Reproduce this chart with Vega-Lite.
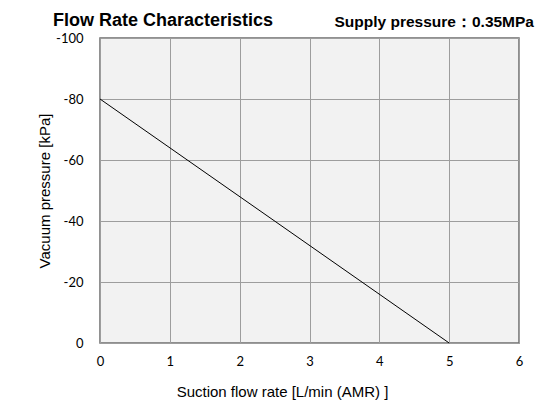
{
  "$schema": "https://vega.github.io/schema/vega-lite/v6.json",
  "width": 419,
  "height": 305,
  "autosize": "none",
  "padding": {"left": 100, "top": 38, "right": 16, "bottom": 62},
  "background": "white",
  "config": {
    "view": {"fill": "#f2f2f2", "stroke": "#6e6e6e", "strokeWidth": 1.5},
    "axis": {
      "grid": true,
      "gridColor": "#9d9d9d",
      "gridWidth": 1,
      "gridOpacity": 1,
      "domain": false,
      "ticks": false,
      "labelFont": "Lato",
      "labelFontSize": 13,
      "labelColor": "black",
      "labelExpr": "'' + datum.value",
      "titleFont": "Liberation Sans",
      "titleFontSize": 15,
      "titleFontWeight": "normal",
      "titleColor": "black"
    }
  },
  "data": {"values": [
    {"flow": 0, "pressure": -80},
    {"flow": 5, "pressure": 0}
  ]},
  "layer": [
    {
      "mark": {"type": "line", "color": "black", "strokeWidth": 1},
      "encoding": {
        "x": {
          "field": "flow", "type": "quantitative",
          "scale": {"domain": [0, 6], "nice": false},
          "axis": {"values": [0, 1, 2, 3, 4, 5, 6], "title": "Suction flow rate [L/min (AMR) ]", "labelPadding": 12, "titlePadding": 16, "titleX": 182, "titleAlign": "center", "labelFlush": false}
        },
        "y": {
          "field": "pressure", "type": "quantitative",
          "scale": {"domain": [-100, 0], "reverse": true, "nice": false},
          "axis": {"values": [-100, -80, -60, -40, -20, 0], "title": "Vacuum pressure [kPa]", "labelPadding": 17, "titlePadding": 3}
        }
      }
    },
    {
      "data": {"values": [{"label": "Flow Rate Characteristics", "flow": 0, "pressure": -100}]},
      "mark": {"type": "text", "align": "left", "baseline": "middle", "dx": -47, "dy": -17, "font": "Liberation Sans", "fontSize": 18, "fontWeight": "bold", "color": "black"},
      "encoding": {
        "x": {"field": "flow", "type": "quantitative"},
        "y": {"field": "pressure", "type": "quantitative"},
        "text": {"field": "label"}
      }
    },
    {
      "data": {"values": [{"label": "Supply pressure：0.35MPa", "flow": 6, "pressure": -100}]},
      "mark": {"type": "text", "align": "right", "baseline": "middle", "dx": 15, "dy": -16, "font": "Liberation Sans", "fontSize": 15.5, "fontWeight": "bold", "color": "black"},
      "encoding": {
        "x": {"field": "flow", "type": "quantitative"},
        "y": {"field": "pressure", "type": "quantitative"},
        "text": {"field": "label"}
      }
    }
  ]
}
